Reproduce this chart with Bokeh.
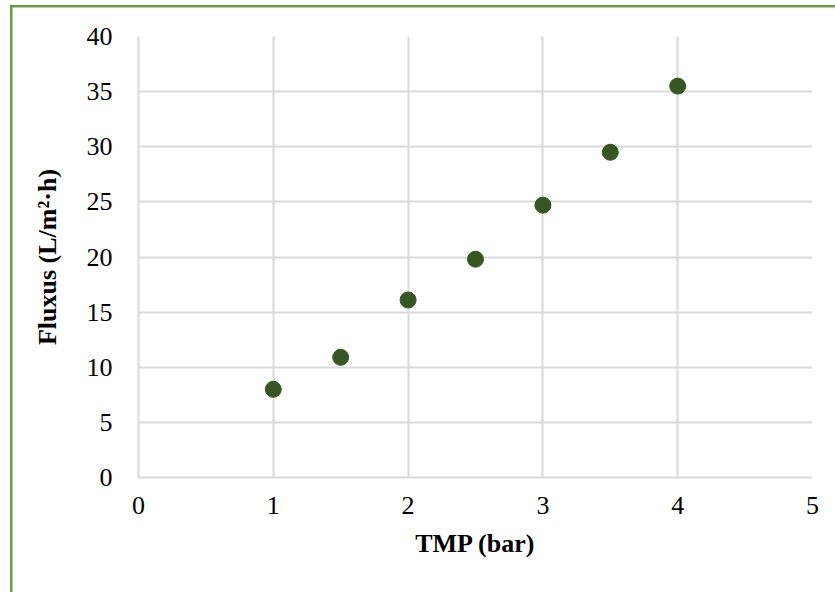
from bokeh.plotting import figure
from bokeh.models import ColumnDataSource, Range1d, FixedTicker
from bokeh.embed import file_html
from bokeh.resources import INLINE

tmp_bar = [1.0, 1.5, 2.0, 2.5, 3.0, 3.5, 4.0]
fluxus = [8.0, 10.9, 16.1, 19.8, 24.7, 29.5, 35.5]
x_ticks = [0, 1, 2, 3, 4, 5]
y_ticks = [0, 5, 10, 15, 20, 25, 30, 35, 40]

src = ColumnDataSource(data=dict(x=tmp_bar, y=fluxus))

green = "#6A9B45"
p = figure(width=835, height=592, output_backend="svg", toolbar_location=None,
           x_range=Range1d(0, 5), y_range=Range1d(0, 40),
           min_border_left=138, min_border_right=23, min_border_top=36, min_border_bottom=115,
           border_fill_color=None, background_fill_color="white")
p.styles = {
    "background": (f"linear-gradient({green},{green}) 10px 5px/2.5px 700px no-repeat, "
                   f"linear-gradient({green},{green}) 10px 5px/900px 2.5px no-repeat, white"),
}

p.scatter("x", "y", source=src, size=16, fill_color="#375623", line_color="#375623")

grid_col = "#d9d9d9"
for ax in (p.xaxis[0], p.yaxis[0]):
    ax.major_tick_line_color = None
    ax.minor_tick_line_color = None
    ax.axis_line_color = grid_col
    ax.axis_line_width = 2
    ax.major_label_text_font = "Liberation Serif"
    ax.major_label_text_font_size = "26px"
    ax.major_label_text_color = "#000000"
    ax.axis_label_text_font = "Liberation Serif"
    ax.axis_label_text_font_size = "26px"
    ax.axis_label_text_font_style = "bold"
    ax.axis_label_text_color = "#000000"

p.xaxis.ticker = FixedTicker(ticks=x_ticks)
p.yaxis.ticker = FixedTicker(ticks=y_ticks)
p.xaxis.axis_label = "TMP (bar)"
p.yaxis.axis_label = "Fluxus (L/m²·h)"
p.xaxis.major_label_standoff = 13
p.xaxis.axis_label_standoff = 12
p.yaxis.major_label_standoff = 20
p.yaxis.axis_label_standoff = 22

p.xgrid.ticker = FixedTicker(ticks=x_ticks)
p.ygrid.ticker = FixedTicker(ticks=y_ticks)
p.grid.grid_line_color = grid_col
p.grid.grid_line_width = 2
p.outline_line_color = None

open("out.html", "w").write(file_html(p, INLINE))
